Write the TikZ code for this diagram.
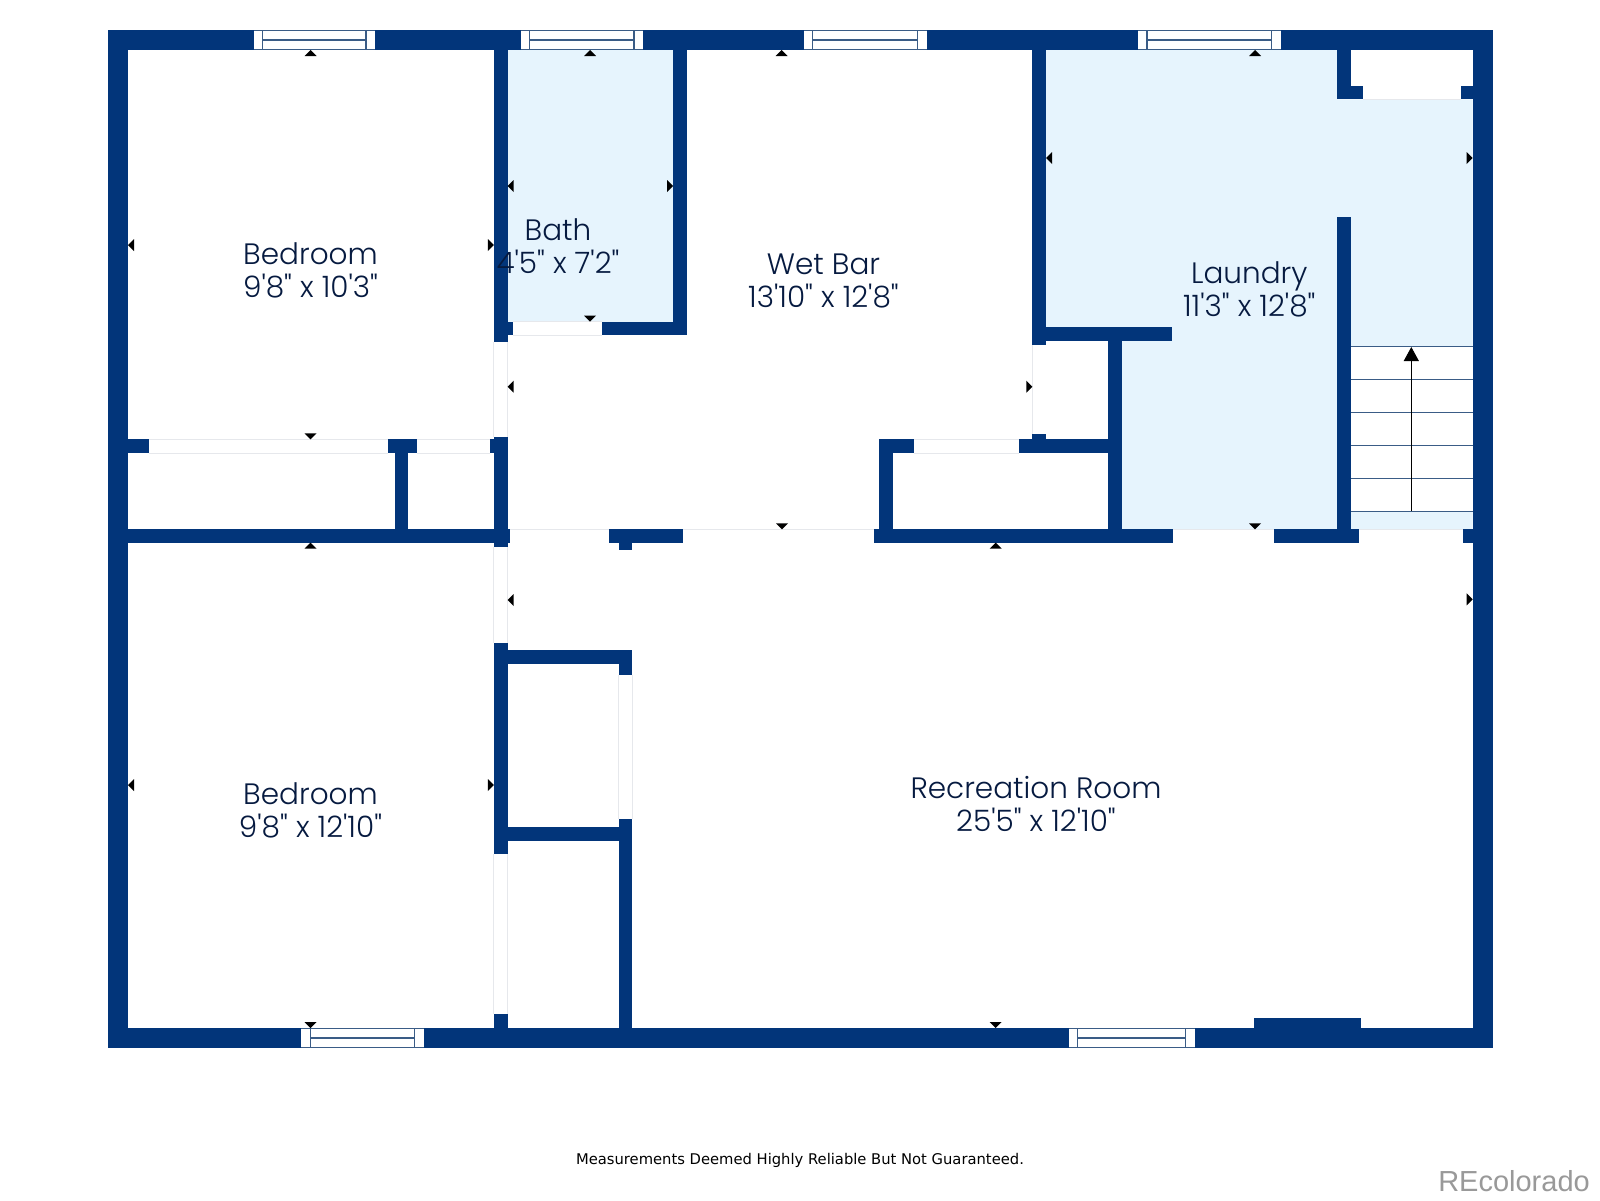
\documentclass[tikz,border=0pt]{standalone}
\usepackage{fontspec}
\usetikzlibrary{arrows.meta}
\newfontfamily\labelfont{Poppins Light}
\newfontfamily\notefont{DejaVu Sans}
\newfontfamily\markfont{Liberation Sans}
\definecolor{wallblue}{HTML}{02357A}
\definecolor{roomblue}{HTML}{E6F4FD}
\definecolor{inkblue}{HTML}{061A40}
\definecolor{sillblue}{HTML}{3A5C86}
\definecolor{doorgrey}{HTML}{E6E8EC}
\tikzset{
	wall/.style={fill=wallblue},
	room/.style={fill=roomblue},
	sill/.style={draw=sillblue,line width=1.2pt},
	tread/.style={draw=sillblue,line width=1pt},
	doorline/.style={draw=doorgrey,line width=0.8pt},
	roomlabel/.style={text=inkblue,align=center,font=\labelfont\fontsize{29.5}{33}\selectfont},
}
\begin{document}
\begin{tikzpicture}[>=stealth,line join=miter,x=1pt,y=-1pt]
	\useasboundingbox (0,0) rectangle (1600,1200);
	\fill[white] (0,0) rectangle (1600,1200);
	% shaded rooms
	\fill[room] (507.6,50) rectangle (673,321.7);
	\fill[room] (1046,50)--(1337,50)--(1337,99.3)--(1472.7,99.3)--(1472.7,529.3)--(1121.7,529.3)--(1121.7,327.3)--(1046,327.3)--cycle;
	\fill[white] (1350.7,346) rectangle (1472.7,511);
	% door openings
	\foreach \xa/\ya/\xb/\yb in {513.3/321.7/602/335.3,148.6/439.3/387.8/453,417.3/439.3/489.6/453,914/439.3/1018.7/453}
		{\draw[doorline] (\xa,\ya)--(\xb,\ya) (\xa,\yb)--(\xb,\yb);}
	\foreach \xa/\ya/\xb/\yb in {493.8/341.7/507.6/436.7,493.8/546.7/507.6/642.7,493.8/854.3/507.6/1014.3,618.5/675.3/632/819}
		{\draw[doorline] (\xa,\ya)--(\xa,\yb) (\xb,\ya)--(\xb,\yb);}
	\draw[doorline] (1032.3,345.3)--(1032.3,434);
	\draw[doorline] (1363.3,99.3)--(1460.7,99.3);
	\draw[doorline] (510,529.3)--(608.6,529.3) (682.8,529.3)--(874,529.3) (1172.7,529.3)--(1274,529.3) (1359.3,529.3)--(1462.7,529.3);
	% walls
	\foreach \xa/\ya/\xb/\yb in {
		107.7/30/1492.7/50,107.7/1028/1492.7/1048,107.7/30/128/1048,1472.7/30/1492.7/1048,
		493.8/50/507.6/341.7,507.6/321.7/513.3/335.3,602/321.7/687/335.3,673/50/687/335.3,
		128/439.3/148.6/453,387.8/439.3/417.3/453,489.6/439.3/493.8/453,394.7/453/408/529.3,
		493.8/436.7/507.6/546.7,128/529.3/510/542.7,608.6/529.3/682.8/542.7,618.5/542.7/632/550.3,
		493.8/642.7/507.6/854.3,507.6/650/632/663.7,618.5/663.7/632/675.3,
		507.6/827.3/618.5/841,618.5/819/632/1028,493.8/1014.3/507.6/1028,
		874/529.3/1172.7/542.7,879/439.3/892.7/529.3,879/439.3/914/453,1018.7/439.3/1108/453,1032.3/434/1046/439.3,
		1032.3/50/1046/345.3,1046/327.3/1172.3/340.7,1108/340.7/1121.7/529.3,
		1274/529.3/1359.3/542.7,1462.7/529.3/1472.7/542.7,1336.7/216.7/1350.7/529.3,
		1337/50/1350.7/99.3,1337/85.7/1363.3/99.3,1460.7/85.7/1472.7/99.3,1253.9/1017.7/1361/1028}
		{\fill[wall] (\xa,\ya) rectangle (\xb,\yb);}
	% windows
	\foreach \xa/\xi/\xj/\xb/\ya in {253.8/262.6/366/374.8/30,520.7/529.7/634/643/30,804/812.7/917.3/926.7/30,1138.3/1147/1271.7/1280.7/30,
		301.3/310.5/414.6/423.7/1028,1068.5/1077.6/1185.3/1195/1028}
		{\fill[white] (\xa,\ya+0.7) rectangle (\xb,\ya+19.3);
		\draw[sill] (\xa,\ya+0.7)--(\xb,\ya+0.7) (\xa,\ya+19.3)--(\xb,\ya+19.3) (\xi,\ya+10)--(\xj,\ya+10) (\xi,\ya+0.7)--(\xi,\ya+19.3) (\xj,\ya+0.7)--(\xj,\ya+19.3);}
	% stairs
	\foreach \ya in {346,379,412,445,478,511}
		{\draw[tread] (1350.7,\ya)--(1472.7,\ya);}
	\coordinate (stairfoot) at (1411.3,511);
	\coordinate (stairhead) at (1411.3,347);
	\draw[-{Stealth[length=14pt,width=15pt,inset=0pt]},line width=1pt,black] (stairfoot)--(stairhead);
	% small marks on the walls
	\foreach \xa/\ya in {310.5/50,590/50,781.6/50,1255/50,310.5/542.7,995.7/542.7}
		{\fill[black] (\xa,\ya)--(\xa+6,\ya+6)--(\xa-6,\ya+6)--cycle;}
	\foreach \xa/\ya in {310.5/439.3,590/321.7,782/529.3,1255/529.3,310.5/1028,995.7/1028}
		{\fill[black] (\xa,\ya)--(\xa+6,\ya-6)--(\xa-6,\ya-6)--cycle;}
	\foreach \xa/\ya in {128/245,507.6/186,507.6/386.7,1046/158,507.6/600,128/785}
		{\fill[black] (\xa,\ya)--(\xa+6,\ya-6)--(\xa+6,\ya+6)--cycle;}
	\foreach \xa/\ya in {493.8/245,673/186,1032.3/386.7,1472.7/158,1472.7/599.3,493.8/785}
		{\fill[black] (\xa,\ya)--(\xa-6,\ya-6)--(\xa-6,\ya+6)--cycle;}
	% room names
	\node[roomlabel] (bedroomtop) at (310.5,270) {Bedroom\\9'8" x 10'3"};
	\node[roomlabel] (bath) at (558,246) {Bath\\4'5" x 7'2"};
	\node[roomlabel] (wetbar) at (823.5,280.5) {Wet Bar\\13'10" x 12'8"};
	\node[roomlabel] (laundry) at (1249.3,289) {Laundry\\11'3" x 12'8"};
	\node[roomlabel] (bedroomlow) at (310.5,810.5) {Bedroom\\9'8" x 12'10"};
	\node[roomlabel] (recroom) at (1036,803.5) {Recreation Room\\25'5" x 12'10"};
	\node[text=black,font=\notefont\fontsize{14.75}{16}\selectfont] (disclaimer) at (800,1160) {Measurements Deemed Highly Reliable But Not Guaranteed.};
	\node[text=black!40,font=\markfont\fontsize{29}{32}\selectfont] (brand) at (1514,1181) {REcolorado};
\end{tikzpicture}
\end{document}
